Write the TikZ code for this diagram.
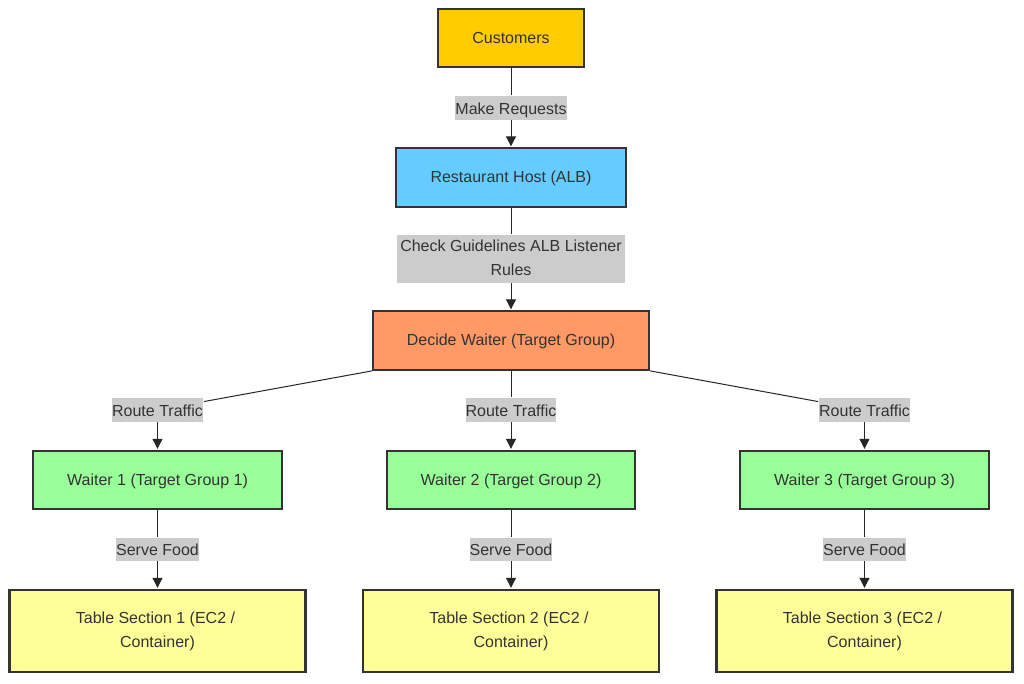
\documentclass[tikz,border=0pt]{standalone}
\usepackage{fontspec}
\setmainfont{Liberation Sans}
\usetikzlibrary{arrows.meta}
\definecolor{custfill}{HTML}{FFCC00}
\definecolor{hostfill}{HTML}{66CCFF}
\definecolor{decidefill}{HTML}{FF9966}
\definecolor{waiterfill}{HTML}{99FF99}
\definecolor{tablefill}{HTML}{FFFF99}
\definecolor{labelfill}{HTML}{CCCCCC}
\definecolor{inkcol}{HTML}{333333}
\tikzset{
	x=0.75pt,y=-0.75pt,
	box/.style={draw=inkcol,line width=1.6pt,inner sep=0pt,text=inkcol,align=center,font=\fontsize{12}{18}\selectfont,execute at begin node={\rule[-2.5pt]{0pt}{13pt}}},
	waiterbox/.style={box,fill=waiterfill,minimum width=187pt,minimum height=44pt},
	tablebox/.style={box,fill=tablefill,minimum width=222pt,minimum height=62pt,execute at begin node={\rule{0pt}{13pt}}},
	lab/.style={fill=labelfill,inner sep=0pt,text=inkcol,align=center,font=\fontsize{12}{18}\selectfont,minimum height=17.5pt,execute at begin node={\rule[-2.5pt]{0pt}{14.5pt}}},
	conn/.style={draw=black!85,line width=0.75pt,shorten >=0.6pt},
	arr/.style={conn,-{Triangle[length=7.5pt,width=7.5pt]}}
}
\begin{document}
\begin{tikzpicture}
	\useasboundingbox (0,0) rectangle (1024,683);
	\fill[white] (0,0) rectangle (1024,683);
	
	\node[box,fill=custfill,minimum width=110pt,minimum height=44pt] (customers) at (511,38) {Customers};
	\node[box,fill=hostfill,minimum width=172.5pt,minimum height=44pt] (host) at (511,177.5) {Restaurant Host (ALB)};
	\node[box,fill=decidefill,minimum width=207pt,minimum height=44pt] (decide) at (511,340.5) {Decide Waiter (Target Group)};
	
	\node[waiterbox] (waitera) at (157.5,480) {Waiter 1 (Target Group 1)};
	\node[waiterbox,minimum width=186.5pt] (waiterb) at (511,480) {Waiter 2 (Target Group 2)};
	\node[waiterbox] (waiterc) at (864.5,480) {Waiter 3 (Target Group 3)};
	
	\node[tablebox] (tablea) at (157.5,631) {Table Section 1 (EC2 /\hspace*{3pt}\\Container)};
	\node[tablebox] (tableb) at (511,631) {Table Section 2 (EC2 /\hspace*{3pt}\\Container)};
	\node[tablebox] (tablec) at (864.5,631) {Table Section 3 (EC2 /\hspace*{3pt}\\Container)};
	
	\node[lab,minimum width=83pt] (lreq) at (511,108) {Make Requests};
	\node[lab,minimum width=171pt,minimum height=36pt] (lrules) at (511,259) {Check Guidelines ALB Listener\\Rules};
	\node[lab,minimum width=68pt] (lroutea) at (157.5,410) {Route Traffic};
	\node[lab,minimum width=68pt] (lrouteb) at (511,410) {Route Traffic};
	\node[lab,minimum width=68pt] (lroutec) at (864.5,410) {Route Traffic};
	\node[lab,minimum width=62pt] (lservea) at (157.5,549.5) {Serve Food};
	\node[lab,minimum width=62pt] (lserveb) at (511,549.5) {Serve Food};
	\node[lab,minimum width=62pt] (lservec) at (864.5,549.5) {Serve Food};
	
	\draw[conn] (customers) -- (lreq);
	\draw[arr] (lreq) -- (host);
	\draw[conn] (host) -- (lrules);
	\draw[arr] (lrules) -- (decide);
	\draw[conn] (decide.south west) -- (lroutea);
	\draw[arr] (lroutea) -- (waitera);
	\draw[conn] (decide) -- (lrouteb);
	\draw[arr] (lrouteb) -- (waiterb);
	\draw[conn] (decide.south east) -- (lroutec);
	\draw[arr] (lroutec) -- (waiterc);
	\draw[conn] (waitera) -- (lservea);
	\draw[arr] (lservea) -- (tablea);
	\draw[conn] (waiterb) -- (lserveb);
	\draw[arr] (lserveb) -- (tableb);
	\draw[conn] (waiterc) -- (lservec);
	\draw[arr] (lservec) -- (tablec);
\end{tikzpicture}
\end{document}
